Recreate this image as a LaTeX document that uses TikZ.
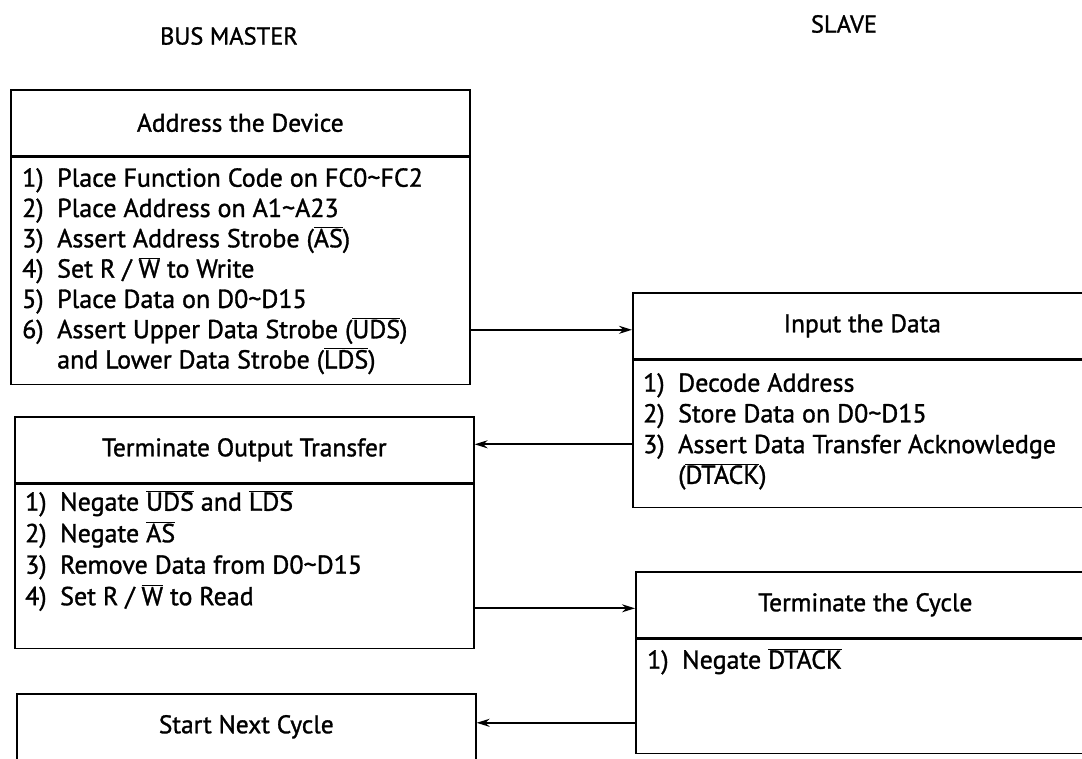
\documentclass[tikz,border=0pt]{standalone}
\usepackage{fontspec}
\setmainfont{PT Sans}[FakeBold=1.2]
\usetikzlibrary{arrows.meta,calc}
\newcommand{\ovl}[1]{$\overline{\mbox{#1}}$}
\newcommand{\itm}[1]{\makebox[35pt][l]{#1}}
\newcommand{\tld}{\textasciitilde}
\begin{document}
\begin{tikzpicture}[x=1pt,y=-1pt,
  hdr/.style={draw, line width=1.6pt, minimum width=459pt, minimum height=66pt,
    inner sep=0pt, font=\fontsize{25.5}{30}\selectfont, anchor=north west},
  bodybox/.style={draw, line width=1.6pt, minimum width=459pt, inner sep=0pt, anchor=north west},
  items/.style={anchor=north west, align=left, inner sep=0pt, font=\fontsize{26}{30.3}\selectfont},
  head/.style={font=\fontsize{24.5}{28}\selectfont, inner sep=0pt},
  arr/.style={line width=1.7pt, -{Stealth[length=13pt,width=8pt]}}]
\useasboundingbox (0,0) rectangle (1082,758);
\clip (0,0) rectangle (1082,758);
\fill[white] (0,0) rectangle (1082,758);

\node[head] (bm) at (229,36) {BUS MASTER};
\node[head] (sl) at (844,24) {SLAVE};

% Address the Device
\node[hdr] (adT) at (10,89) {Address the Device};
\node[bodybox, minimum height=227pt] (adB) at (adT.south west) {};
\node[items] (adI) at (22,168) {%
\itm{1)}Place Function Code on FC0\tld FC2\\
\itm{2)}Place Address on A1\tld A23\\
\itm{3)}Assert Address Strobe (\ovl{AS})\\
\itm{4)}Set R / \ovl{W} to Write\\
\itm{5)}Place Data on D0\tld D15\\
\itm{6)}Assert Upper Data Strobe (\ovl{UDS})\\
\itm{}and Lower Data Strobe (\ovl{LDS})};

% Input the Data
\node[hdr] (inT) at (632,292) {Input the Data};
\node[bodybox, minimum height=147pt] (inB) at (inT.south west) {};
\node[items, font=\fontsize{26}{30.7}\selectfont] (inI) at (643,373) {%
\itm{1)}Decode Address\\
\itm{2)}Store Data on D0\tld D15\\
\itm{3)}Assert Data Transfer Acknowledge\\
\itm{}(\ovl{DTACK})};

% Terminate Output Transfer
\node[hdr] (toT) at (14,416) {Terminate Output Transfer};
\node[bodybox, minimum height=164pt] (toB) at (toT.south west) {};
\node[items, font=\fontsize{26}{31.5}\selectfont] (toI) at (25,490) {%
\itm{1)}Negate \ovl{UDS} and \ovl{LDS}\\
\itm{2)}Negate \ovl{AS}\\
\itm{3)}Remove Data from D0\tld D15\\
\itm{4)}Set R / \ovl{W} to Read};

% Terminate the Cycle
\node[hdr] (tcT) at (635,571) {Terminate the Cycle};
\node[bodybox, minimum height=114pt] (tcB) at (tcT.south west) {};
\node[items] (tcI) at (647,648) {\itm{1)}Negate \ovl{DTACK}};

% Start Next Cycle
\node[hdr] (snT) at (16,693) {Start Next Cycle};

% connectors
\coordinate (p1) at ([yshift=-4pt]inT.west);
\draw[arr] (adB.east |- p1) -- (p1);
\coordinate (p2) at ([yshift=5.5pt]toT.east);
\draw[arr] (inB.west |- p2) -- (p2);
\coordinate (p3) at ([yshift=-3.5pt]tcT.west);
\draw[arr] (toB.east |- p3) -- (p3);
\coordinate (p4) at ([yshift=4pt]snT.east);
\draw[arr] (tcB.west |- p4) -- (p4);
\end{tikzpicture}
\end{document}
